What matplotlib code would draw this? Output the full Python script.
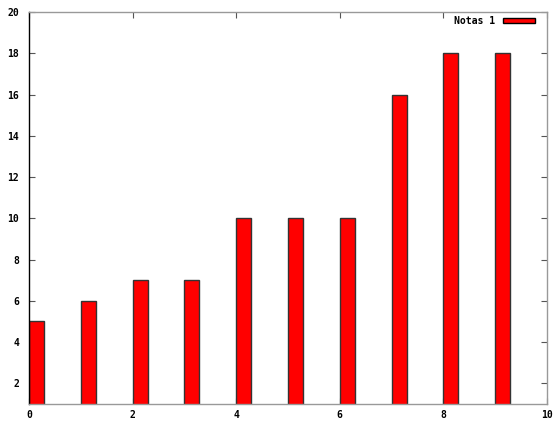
import matplotlib
matplotlib.use("Agg")
import matplotlib.pyplot as plt
from matplotlib.patches import Patch

# data
positions = [0, 1, 2, 3, 4, 5, 6, 7, 8, 9]
notas = [5, 6, 7, 7, 10, 10, 10, 16, 18, 18]
xticks = [0, 2, 4, 6, 8, 10]
yticks = [2, 4, 6, 8, 10, 12, 14, 16, 18, 20]

plt.rcParams['font.family'] = ['DejaVu Sans Mono']
plt.rcParams['font.weight'] = 'bold'
plt.rcParams['font.size'] = 7

fig = plt.figure(figsize=(5.57, 4.22), dpi=100)
ax = fig.add_axes([29 / 557, 1 - 404 / 422, 518 / 557, 392 / 422])

ax.bar(positions, notas, width=0.29, align='edge', bottom=0,
       color='#ff0000', edgecolor='#333333', linewidth=1.0, zorder=2)

ax.set_xlim(0, 10)
ax.set_ylim(1, 20)
ax.set_xticks(xticks)
ax.set_yticks(yticks)

for side in ['top', 'right', 'bottom']:
    ax.spines[side].set_color('#999999')
ax.spines['left'].set_color('black')
for s in ax.spines.values():
    s.set_linewidth(1.0)

ax.tick_params(direction='in', length=4, width=0.8, color='#555555',
               top=True, right=True, labelsize=7)
ax.tick_params(axis='x', pad=4)
ax.tick_params(axis='y', pad=7)

leg = ax.legend(handles=[Patch(facecolor='#ff0000', edgecolor='black', label='Notas 1')],
                loc='upper right', bbox_to_anchor=(0.985, 1.0), frameon=False, markerfirst=False,
                handlelength=3.3, handleheight=0.45, handletextpad=0.8,
                borderaxespad=0.0, prop={'family': 'DejaVu Sans Mono', 'weight': 'bold', 'size': 7})

fig.savefig('out.png', dpi=100)
